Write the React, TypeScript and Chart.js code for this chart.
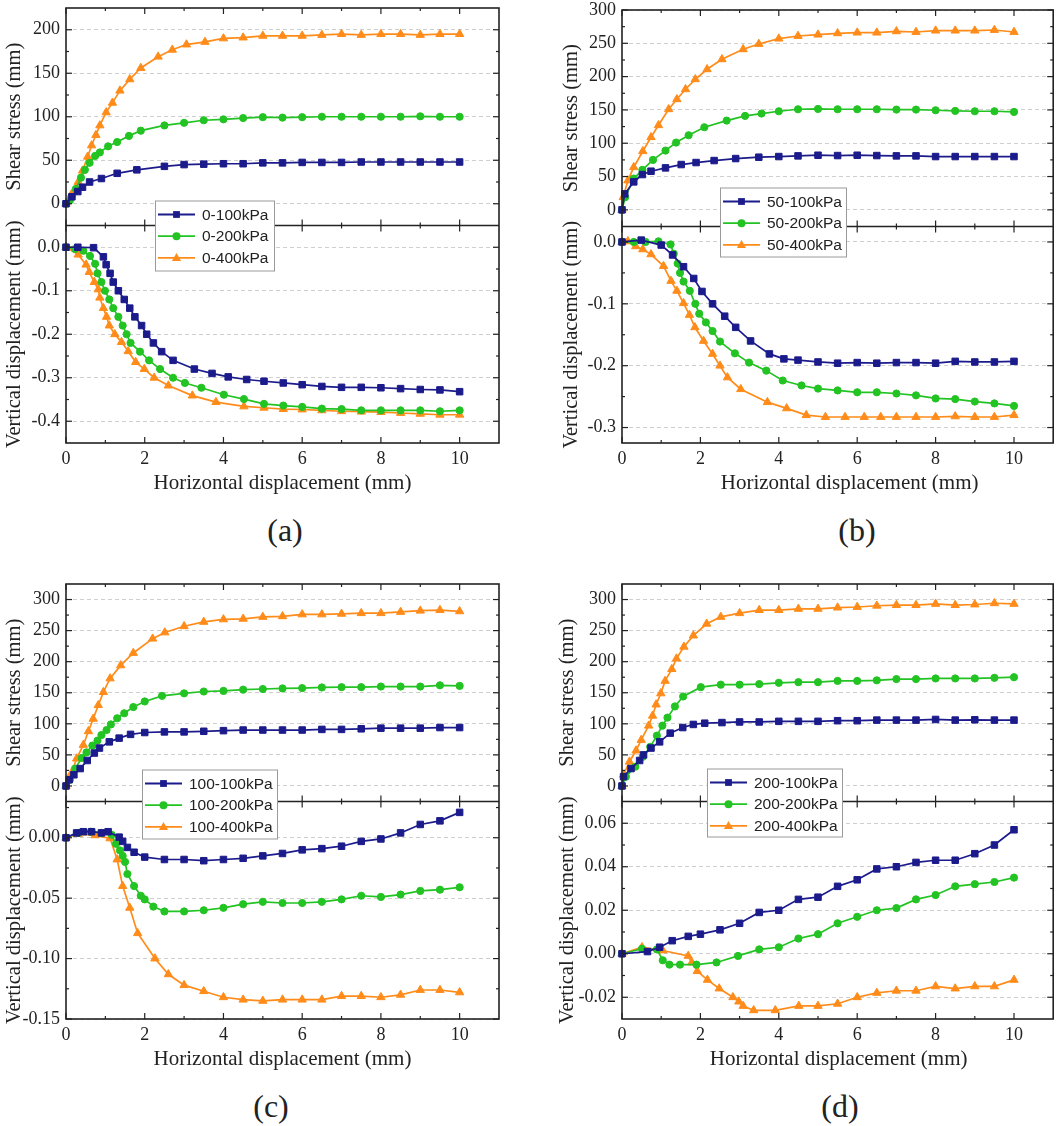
import { useEffect, useRef } from 'react';
import { Chart, registerables } from 'chart.js';

Chart.register(...registerables);

type Pt = [number, number];

const X_TICKS = [0, 2, 4, 6, 8, 10];

// (a)
const A_LABELS = ['0-100kPa', '0-200kPa', '0-400kPa'];
const A_TAU_TICKS = [0, 50, 100, 150, 200];
const A_V_TICKS = [-0.4, -0.3, -0.2, -0.1, 0];
const A_TAU_100: Pt[] = [[0, 0], [0.15, 8], [0.3, 14], [0.42, 19], [0.6, 25], [0.9, 29], [1.3, 35], [1.8, 39], [2.5, 43], [3, 45], [3.5, 45.5], [4, 46], [4.5, 46], [5, 47], [5.5, 47], [6, 47.5], [6.5, 47.5], [7, 47.5], [7.5, 48], [8, 48], [8.5, 48], [9, 48], [9.5, 48], [10, 48]];
const A_TAU_200: Pt[] = [[0, 0], [0.1, 4], [0.25, 17], [0.38, 30], [0.48, 39], [0.6, 47], [0.74, 55], [0.86, 59], [1.07, 66], [1.3, 71], [1.6, 78], [1.9, 84], [2.5, 90], [3, 93], [3.5, 96], [4, 97], [4.5, 98.5], [5, 99.5], [5.5, 99], [6, 99.5], [6.5, 100], [7, 100], [7.5, 100], [8, 100], [8.5, 100], [9, 100.5], [9.5, 100], [10, 100]];
const A_TAU_400: Pt[] = [[0, 0], [0.14, 11], [0.31, 25], [0.42, 38], [0.55, 54], [0.65, 67], [0.76, 79], [0.86, 90], [1.02, 105], [1.18, 116], [1.37, 130], [1.62, 143], [1.9, 156], [2.34, 169], [2.7, 177], [3.06, 183], [3.53, 186], [4, 190], [4.5, 191], [5, 193], [5.5, 193], [6, 193], [6.5, 194], [7, 195], [7.5, 194], [8, 195], [8.5, 195], [9, 194], [9.5, 195], [10, 195]];
const A_V_100: Pt[] = [[0, 0], [0.3, 0], [0.7, -0.001], [0.95, -0.022], [1.02, -0.04], [1.12, -0.06], [1.2, -0.08], [1.33, -0.1], [1.48, -0.12], [1.62, -0.14], [1.75, -0.16], [1.92, -0.18], [2.05, -0.2], [2.22, -0.22], [2.43, -0.24], [2.72, -0.26], [3.26, -0.28], [3.71, -0.29], [4.12, -0.298], [4.59, -0.304], [5.03, -0.308], [5.52, -0.312], [6, -0.316], [6.5, -0.32], [7, -0.322], [7.5, -0.322], [8, -0.323], [8.5, -0.325], [9, -0.327], [9.5, -0.328], [10, -0.332]];
const A_V_200: Pt[] = [[0, 0], [0.23, -0.004], [0.44, -0.008], [0.61, -0.02], [0.74, -0.038], [0.8, -0.06], [0.9, -0.08], [0.99, -0.1], [1.1, -0.12], [1.2, -0.14], [1.33, -0.16], [1.44, -0.18], [1.54, -0.2], [1.64, -0.22], [1.88, -0.24], [2.11, -0.26], [2.39, -0.28], [2.72, -0.3], [3.02, -0.312], [3.44, -0.323], [4.01, -0.339], [4.52, -0.349], [5.03, -0.36], [5.52, -0.364], [6, -0.367], [6.5, -0.371], [7, -0.372], [7.5, -0.375], [8, -0.375], [8.5, -0.375], [9, -0.375], [9.5, -0.377], [10, -0.375]];
const A_V_400: Pt[] = [[0, 0], [0.31, -0.017], [0.51, -0.04], [0.59, -0.057], [0.72, -0.08], [0.82, -0.097], [0.86, -0.116], [0.95, -0.14], [1.03, -0.16], [1.1, -0.18], [1.24, -0.2], [1.41, -0.218], [1.58, -0.239], [1.77, -0.264], [1.99, -0.28], [2.24, -0.3], [2.6, -0.318], [3.21, -0.341], [3.81, -0.356], [4.52, -0.366], [5.03, -0.369], [5.52, -0.372], [6, -0.373], [6.5, -0.375], [7, -0.377], [7.5, -0.378], [8, -0.379], [8.5, -0.381], [9, -0.383], [9.5, -0.385], [10, -0.385]];

// (b)
const B_LABELS = ['50-100kPa', '50-200kPa', '50-400kPa'];
const B_TAU_TICKS = [0, 50, 100, 150, 200, 250, 300];
const B_V_TICKS = [-0.3, -0.2, -0.1, 0];
const B_TAU_100: Pt[] = [[0, 0], [0.07, 24], [0.3, 42], [0.52, 53], [0.74, 58], [1.11, 63], [1.51, 68], [1.89, 71], [2.35, 74], [2.9, 77], [3.49, 79], [4, 80], [4.49, 81], [5, 82], [5.5, 81.5], [6, 82], [6.5, 81.5], [7, 81], [7.5, 81], [8, 80], [8.5, 80], [9, 80], [9.5, 80], [10, 80]];
const B_TAU_200: Pt[] = [[0, 0], [0.08, 19], [0.3, 47], [0.52, 60], [0.79, 75], [1.11, 89], [1.38, 101], [1.7, 112], [2.1, 124], [2.67, 134], [3.14, 141], [3.56, 144.5], [4, 148], [4.49, 151], [5, 151.5], [5.5, 151], [6, 151], [6.5, 151], [7, 150.5], [7.5, 150.5], [8, 149.5], [8.5, 148.5], [9, 148], [9.5, 148], [10, 147]];
const B_TAU_400: Pt[] = [[0, 0], [0.03, 19], [0.15, 44], [0.3, 64], [0.53, 88], [0.74, 109], [0.93, 127], [1.19, 151], [1.4, 166], [1.62, 181], [1.87, 196], [2.17, 211], [2.55, 226], [3.09, 241], [3.49, 249], [4, 257], [4.49, 261], [5, 263], [5.5, 265], [6, 266], [6.5, 266], [7, 268], [7.5, 267], [8, 269], [8.5, 269], [9, 269], [9.5, 270], [10, 267]];
const B_V_100: Pt[] = [[0, 0], [0.49, 0.003], [1, -0.005], [1.29, -0.021], [1.57, -0.04], [1.83, -0.059], [2.04, -0.08], [2.31, -0.1], [2.62, -0.12], [2.9, -0.138], [3.28, -0.16], [3.76, -0.181], [4.13, -0.189], [4.49, -0.191], [5, -0.194], [5.5, -0.196], [6, -0.195], [6.5, -0.196], [7, -0.195], [7.5, -0.195], [8, -0.196], [8.5, -0.193], [9, -0.194], [9.5, -0.194], [10, -0.193]];
const B_V_200: Pt[] = [[0, 0], [0.3, 0], [0.6, 0], [0.93, 0.001], [1.24, -0.004], [1.32, -0.019], [1.42, -0.035], [1.48, -0.05], [1.57, -0.064], [1.73, -0.079], [1.87, -0.1], [1.97, -0.116], [2.14, -0.13], [2.31, -0.144], [2.5, -0.161], [2.88, -0.18], [3.24, -0.195], [3.68, -0.208], [4.1, -0.224], [4.58, -0.232], [5, -0.237], [5.5, -0.24], [6, -0.243], [6.5, -0.243], [7, -0.245], [7.5, -0.248], [8, -0.253], [8.5, -0.254], [9, -0.258], [9.5, -0.261], [10, -0.265]];
const B_V_400: Pt[] = [[0, 0], [0.15, 0.001], [0.35, -0.007], [0.53, -0.012], [0.74, -0.02], [1.06, -0.039], [1.25, -0.063], [1.4, -0.079], [1.57, -0.099], [1.72, -0.118], [1.86, -0.138], [2.08, -0.16], [2.31, -0.181], [2.5, -0.2], [2.69, -0.219], [3.03, -0.238], [3.71, -0.259], [4.2, -0.269], [4.7, -0.28], [5.19, -0.283], [5.69, -0.283], [6.18, -0.283], [6.6, -0.283], [7, -0.283], [7.5, -0.283], [8, -0.283], [8.5, -0.282], [9, -0.283], [9.5, -0.283], [10, -0.28]];

// (c)
const C_LABELS = ['100-100kPa', '100-200kPa', '100-400kPa'];
const C_TAU_TICKS = [0, 50, 100, 150, 200, 250, 300];
const C_V_TICKS = [-0.15, -0.1, -0.05, 0];
const C_TAU_100: Pt[] = [[0, 0], [0.08, 10], [0.2, 18], [0.36, 28], [0.54, 41], [0.72, 53], [0.85, 61], [1.1, 71], [1.35, 77], [1.64, 83], [2, 86], [2.5, 87], [3, 87], [3.5, 88], [4, 89], [4.5, 90], [5, 90], [5.5, 90], [6, 90], [6.5, 91], [7, 91], [7.5, 92], [8, 93], [8.5, 93], [9, 93], [9.5, 94], [10, 94]];
const C_TAU_200: Pt[] = [[0, 0], [0.1, 10], [0.23, 28], [0.4, 45], [0.52, 54], [0.67, 65], [0.8, 73], [0.9, 82], [1.03, 90], [1.14, 99], [1.3, 109], [1.48, 117], [1.71, 127], [2, 136], [2.44, 145], [3, 149], [3.5, 152], [4, 153], [4.5, 155], [5, 156], [5.5, 157], [6, 157.5], [6.5, 158.5], [7, 159], [7.5, 159], [8, 160], [8.5, 160], [9, 160], [9.5, 162], [10, 161]];
const C_TAU_400: Pt[] = [[0, 0], [0.13, 20], [0.27, 44], [0.44, 66], [0.57, 88], [0.69, 108], [0.82, 130], [0.95, 151], [1.12, 173], [1.39, 194], [1.71, 214], [2.2, 237], [2.51, 247], [3, 257], [3.5, 264], [4, 268], [4.5, 269], [5, 272], [5.5, 273], [6, 276], [6.5, 276], [7, 277], [7.5, 278], [8, 278], [8.5, 280], [9, 282], [9.5, 283], [10, 281]];
const C_V_100: Pt[] = [[0, 0], [0.27, 0.004], [0.44, 0.005], [0.65, 0.005], [0.9, 0.004], [1.07, 0.005], [1.35, 0.0005], [1.44, -0.003], [1.56, -0.008], [1.73, -0.012], [2, -0.016], [2.5, -0.018], [3, -0.018], [3.5, -0.019], [4, -0.018], [4.5, -0.017], [5, -0.015], [5.5, -0.013], [6, -0.01], [6.5, -0.009], [7, -0.007], [7.5, -0.003], [8, -0.001], [8.5, 0.004], [9, 0.011], [9.5, 0.014], [10, 0.021]];
const C_V_200: Pt[] = [[0, 0], [0.31, 0.004], [0.63, 0.005], [0.9, 0.004], [1.16, 0.0025], [1.27, -0.005], [1.37, -0.0105], [1.44, -0.015], [1.5, -0.02], [1.56, -0.03], [1.73, -0.04], [1.9, -0.048], [2, -0.051], [2.22, -0.057], [2.5, -0.061], [3, -0.061], [3.5, -0.06], [4, -0.058], [4.5, -0.055], [5, -0.053], [5.5, -0.054], [6, -0.054], [6.5, -0.053], [7, -0.051], [7.5, -0.048], [8, -0.049], [8.5, -0.047], [9, -0.044], [9.5, -0.043], [10, -0.041]];
const C_V_400: Pt[] = [[0, 0], [0.31, 0.003], [0.74, 0.002], [1.12, -0.0005], [1.3, -0.018], [1.44, -0.04], [1.62, -0.058], [1.82, -0.079], [2.26, -0.1], [2.6, -0.113], [3, -0.122], [3.5, -0.127], [4, -0.132], [4.5, -0.134], [5, -0.135], [5.5, -0.134], [6, -0.134], [6.5, -0.134], [7, -0.131], [7.5, -0.131], [8, -0.132], [8.5, -0.13], [9, -0.126], [9.5, -0.126], [10, -0.128]];

// (d)
const D_LABELS = ['200-100kPa', '200-200kPa', '200-400kPa'];
const D_TAU_TICKS = [0, 50, 100, 150, 200, 250, 300];
const D_V_TICKS = [-0.02, 0, 0.02, 0.04, 0.06];
const D_TAU_100: Pt[] = [[0, 0], [0.04, 15], [0.23, 28], [0.45, 41], [0.55, 50], [0.74, 61], [0.96, 71], [1.23, 85], [1.55, 94], [1.82, 99], [2.11, 101], [2.55, 102], [3, 103], [3.5, 103], [4, 104], [4.5, 104], [5, 104], [5.5, 105], [6, 105], [6.5, 106], [7, 106], [7.5, 106], [8, 107], [8.5, 106], [9, 106.5], [9.5, 106], [10, 106]];
const D_TAU_200: Pt[] = [[0, 0], [0.1, 15], [0.34, 31], [0.53, 47], [0.72, 63], [0.89, 81], [1.03, 97], [1.16, 110], [1.35, 128], [1.56, 144], [2.01, 159], [2.52, 163], [3, 163], [3.5, 164], [4, 166], [4.5, 167], [5, 167], [5.5, 169], [6, 169], [6.5, 170], [7, 172], [7.5, 172], [8, 173], [8.5, 173], [9, 173], [9.5, 174], [10, 175]];
const D_TAU_400: Pt[] = [[0, 0], [0.04, 18], [0.19, 39], [0.36, 57], [0.49, 74], [0.68, 97], [0.78, 113], [0.87, 131], [0.99, 149], [1.1, 169], [1.27, 188], [1.39, 205], [1.58, 224], [1.82, 242], [2.16, 261], [2.52, 272], [3, 278], [3.5, 283], [4, 283], [4.5, 285], [5, 285], [5.5, 287], [6, 288], [6.5, 290], [7, 291], [7.5, 291], [8, 293], [8.5, 291], [9, 292], [9.5, 294], [10, 293]];
const D_V_100: Pt[] = [[0, 0], [0.65, 0.001], [0.96, 0.003], [1.28, 0.006], [1.69, 0.008], [2, 0.009], [2.5, 0.011], [3, 0.014], [3.5, 0.019], [4, 0.02], [4.5, 0.025], [5, 0.026], [5.5, 0.031], [6, 0.034], [6.5, 0.039], [7, 0.04], [7.5, 0.042], [8, 0.043], [8.5, 0.043], [9, 0.046], [9.5, 0.05], [10, 0.057]];
const D_V_200: Pt[] = [[0, 0], [0.51, 0.0023], [0.89, 0.002], [1.04, -0.003], [1.21, -0.005], [1.48, -0.005], [1.9, -0.005], [2.41, -0.004], [2.96, -0.001], [3.5, 0.002], [4, 0.003], [4.5, 0.007], [5, 0.009], [5.5, 0.014], [6, 0.017], [6.5, 0.02], [7, 0.021], [7.5, 0.025], [8, 0.027], [8.5, 0.031], [9, 0.032], [9.5, 0.033], [10, 0.035]];
const D_V_400: Pt[] = [[0, 0], [0.51, 0.003], [1.04, 0.0015], [1.69, -0.001], [1.78, -0.004], [1.92, -0.008], [2.18, -0.012], [2.48, -0.016], [2.83, -0.02], [2.98, -0.022], [3.09, -0.024], [3.36, -0.026], [3.91, -0.026], [4.51, -0.024], [5, -0.024], [5.5, -0.023], [6, -0.02], [6.5, -0.018], [7, -0.017], [7.5, -0.017], [8, -0.015], [8.5, -0.016], [9, -0.015], [9.5, -0.015], [10, -0.012]];

const COLORS = ['#1b1b8c', '#22c322', '#ff8c1a'];
const MARKERS = ['rect', 'circle', 'triangle'];
const RADII = [4.6, 3.6, 4.8];
const INK = '#222222';
const SERIF = '"Liberation Serif", "Times New Roman", serif';

type PanelCfg = {
  left: number; top: number; width: number; padTop: number;
  tag: string; tagX: number; tagY: number; yTitleX: number; xTitleDx: number;
  labels: string[]; tau: Pt[][]; vert: Pt[][];
  tauMin: number; tauMax: number; tauTicks: number[];
  vMin: number; vMax: number; vTicks: number[]; vDec: number;
  legend: { dx: number; dy: number; w: number; h: number };
};

const PANELS: PanelCfg[] = [
  { left: 0, top: 0, width: 520, padTop: 8, tag: '(a)', tagX: 285, tagY: 530, yTitleX: 15, xTitleDx: 0,
    labels: A_LABELS, tau: [A_TAU_100, A_TAU_200, A_TAU_400], vert: [A_V_100, A_V_200, A_V_400],
    tauMin: -25, tauMax: 225, tauTicks: A_TAU_TICKS, vMin: -0.45, vMax: 0.05, vTicks: A_V_TICKS, vDec: 1,
    legend: { dx: 89, dy: -25, w: 119, h: 70 } },
  { left: 556, top: 0, width: 503, padTop: 10, tag: '(b)', tagX: 857, tagY: 530, yTitleX: 16, xTitleDx: 12,
    labels: B_LABELS, tau: [B_TAU_100, B_TAU_200, B_TAU_400], vert: [B_V_100, B_V_200, B_V_400],
    tauMin: -25, tauMax: 300, tauTicks: B_TAU_TICKS, vMin: -0.325, vMax: 0.025, vTicks: B_V_TICKS, vDec: 1,
    legend: { dx: 98, dy: -39, w: 126, h: 69 } },
  { left: 0, top: 576, width: 520, padTop: 8, tag: '(c)', tagX: 271, tagY: 1106, yTitleX: 15, xTitleDx: 0,
    labels: C_LABELS, tau: [C_TAU_100, C_TAU_200, C_TAU_400], vert: [C_V_100, C_V_200, C_V_400],
    tauMin: -25, tauMax: 325, tauTicks: C_TAU_TICKS, vMin: -0.15, vMax: 0.03, vTicks: C_V_TICKS, vDec: 2,
    legend: { dx: 76, dy: -32, w: 135, h: 69 } },
  { left: 556, top: 576, width: 503, padTop: 8, tag: '(d)', tagX: 840, tagY: 1106, yTitleX: 12, xTitleDx: 1,
    labels: D_LABELS, tau: [D_TAU_100, D_TAU_200, D_TAU_400], vert: [D_V_100, D_V_200, D_V_400],
    tauMin: -25, tauMax: 325, tauTicks: D_TAU_TICKS, vMin: -0.03, vMax: 0.07, vTicks: D_V_TICKS, vDec: 2,
    legend: { dx: 85, dy: -33, w: 135, h: 68 } },
];

const CANVAS_H = 500;
const PLOT_LEFT = 66;
const PLOT_RIGHT = 499;
const PLOT_BOTTOM = 443;
const X_TITLE_Y = 483;

function seg(ctx: CanvasRenderingContext2D, x1: number, y1: number, x2: number, y2: number) {
  ctx.beginPath();
  ctx.moveTo(x1, y1);
  ctx.lineTo(x2, y2);
  ctx.stroke();
}

function drawMarker(ctx: CanvasRenderingContext2D, i: number, x: number, y: number) {
  ctx.fillStyle = COLORS[i];
  ctx.beginPath();
  if (MARKERS[i] === 'rect') ctx.rect(x - 3.4, y - 3.4, 6.8, 6.8);
  else if (MARKERS[i] === 'circle') ctx.arc(x, y, 4, 0, Math.PI * 2);
  else {
    ctx.moveTo(x, y - 5);
    ctx.lineTo(x + 4.6, y + 3);
    ctx.lineTo(x - 4.6, y + 3);
    ctx.closePath();
  }
  ctx.fill();
}

function minorOf(ticks: number[], lo: number, hi: number) {
  const step = ticks[1] - ticks[0];
  return [ticks[0] - step / 2, ...ticks.map((v) => v + step / 2)].filter((v) => v > lo + 1e-9 && v < hi - 1e-9);
}

function makePlugins(cfg: PanelCfg) {
  const frame = {
    id: 'frame',
    afterDatasetsDraw(chart: any) {
      const { ctx, chartArea: ca } = chart;
      const xs = chart.scales.x;
      const yT = chart.scales.yTop;
      const yB = chart.scales.yBot;
      const div = yT.bottom;
      ctx.save();
      ctx.strokeStyle = INK;
      ctx.setLineDash([]);
      ctx.lineWidth = 1.2;
      X_TICKS.forEach((v) => {
        const p = xs.getPixelForValue(v);
        seg(ctx, p, ca.top, p, ca.top + 6);
        seg(ctx, p, div - 6, p, div + 6);
        seg(ctx, p, ca.bottom, p, ca.bottom - 6);
      });
      minorOf(X_TICKS, xs.min, xs.max).forEach((v) => {
        const p = xs.getPixelForValue(v);
        seg(ctx, p, ca.top, p, ca.top + 3);
        seg(ctx, p, div - 3, p, div + 3);
        seg(ctx, p, ca.bottom, p, ca.bottom - 3);
      });
      const pairs: [any, number[]][] = [[yT, cfg.tauTicks], [yB, cfg.vTicks]];
      pairs.forEach(([sc, ticks]) => {
        ticks.forEach((v) => {
          const p = sc.getPixelForValue(v);
          seg(ctx, ca.left, p, ca.left + 6, p);
          seg(ctx, ca.right, p, ca.right - 6, p);
        });
        minorOf(ticks, sc.min, sc.max).forEach((v) => {
          const p = sc.getPixelForValue(v);
          seg(ctx, ca.left, p, ca.left + 3, p);
          seg(ctx, ca.right, p, ca.right - 3, p);
        });
      });
      ctx.lineWidth = 1.6;
      ctx.strokeRect(ca.left, ca.top, ca.right - ca.left, ca.bottom - ca.top);
      seg(ctx, ca.left, div, ca.right, div);
      ctx.restore();
    },
  };
  const legend = {
    id: 'boxLegend',
    afterDraw(chart: any) {
      const { ctx, chartArea: ca } = chart;
      const lg = cfg.legend;
      const L = ca.left + lg.dx;
      const T = chart.scales.yTop.bottom + lg.dy;
      ctx.save();
      ctx.fillStyle = '#ffffff';
      ctx.fillRect(L, T, lg.w, lg.h);
      ctx.strokeStyle = '#9a9a9a';
      ctx.lineWidth = 1;
      ctx.strokeRect(L + 0.5, T + 0.5, lg.w, lg.h);
      cfg.labels.forEach((lab, i) => {
        const cy = T + 14 + i * 21.7;
        ctx.strokeStyle = COLORS[i];
        ctx.lineWidth = 1.8;
        seg(ctx, L + 3, cy, L + 40, cy);
        drawMarker(ctx, i, L + 21.5, cy);
        ctx.fillStyle = INK;
        ctx.font = '15.5px "Liberation Sans", Arial, sans-serif';
        ctx.textBaseline = 'middle';
        ctx.textAlign = 'left';
        ctx.fillText(lab, L + 47, cy + 1);
      });
      ctx.restore();
    },
  };
  const titles = {
    id: 'axisTitles',
    afterDraw(chart: any) {
      const { ctx, chartArea: ca } = chart;
      const yT = chart.scales.yTop;
      const yB = chart.scales.yBot;
      ctx.save();
      ctx.fillStyle = INK;
      ctx.textAlign = 'center';
      ctx.textBaseline = 'middle';
      ctx.font = `20.5px ${SERIF}`;
      const ys: [any, string][] = [[yT, 'Shear stress (mm)'], [yB, 'Vertical displacement (mm)']];
      ys.forEach(([sc, text]) => {
        ctx.save();
        ctx.translate(cfg.yTitleX, (sc.top + sc.bottom) / 2);
        ctx.rotate(-Math.PI / 2);
        ctx.fillText(text, 0, 0);
        ctx.restore();
      });
      ctx.font = `21px ${SERIF}`;
      ctx.fillText('Horizontal displacement (mm)', (ca.left + ca.right) / 2 + cfg.xTitleDx, X_TITLE_Y);
      ctx.restore();
    },
  };
  return [frame, legend, titles];
}

function Panel({ cfg }: { cfg: PanelCfg }) {
  const ref = useRef<HTMLCanvasElement | null>(null);

  useEffect(() => {
    if (!ref.current) return;
    const mk = (pts: Pt[], i: number, axis: string) => ({
      label: cfg.labels[i],
      data: pts.map(([x, y]) => ({ x, y })),
      yAxisID: axis,
      borderColor: COLORS[i],
      backgroundColor: COLORS[i],
      pointStyle: MARKERS[i],
      pointRadius: RADII[i],
      pointBorderWidth: 1,
      borderWidth: 1.7,
      tension: 0,
      clip: false,
    });
    const tickFont = { family: SERIF, size: 18 };
    const yCommon = (ticks: number[], dec: number, min: number, max: number) => ({
      type: 'linear',
      position: 'left',
      stack: 'panel',
      stackWeight: 1,
      min,
      max,
      afterBuildTicks: (s: any) => { s.ticks = ticks.map((value) => ({ value })); },
      afterFit: (s: any) => { s.width = PLOT_LEFT; s.paddingTop = 0; s.paddingBottom = 0; },
      ticks: { font: tickFont, color: INK, padding: 6, autoSkip: false, callback: (v: any) => Number(v).toFixed(dec) },
      grid: { color: '#cfcfcf', lineWidth: 1, drawTicks: false },
      border: { display: false, dash: [4, 3] },
      title: { display: false },
    });
    const chart = new Chart(ref.current, {
      type: 'line',
      data: {
        datasets: [
          ...cfg.tau.map((p, i) => mk(p, i, 'yTop')),
          ...cfg.vert.map((p, i) => mk(p, i, 'yBot')),
        ],
      },
      options: {
        animation: false,
        responsive: false,
        maintainAspectRatio: false,
        layout: { padding: { top: cfg.padTop, left: 0, right: cfg.width - PLOT_RIGHT, bottom: 0 } },
        plugins: { legend: { display: false }, tooltip: { enabled: false } },
        scales: {
          x: {
            type: 'linear',
            min: 0,
            max: 11,
            afterBuildTicks: (s: any) => { s.ticks = X_TICKS.map((value) => ({ value })); },
            afterFit: (s: any) => { s.height = CANVAS_H - PLOT_BOTTOM; s.paddingLeft = 0; s.paddingRight = 0; },
            ticks: { font: tickFont, color: INK, padding: 5, maxRotation: 0, autoSkip: false },
            grid: { display: false, drawTicks: false },
            border: { display: false },
            title: { display: false },
          },
          yBot: yCommon(cfg.vTicks, cfg.vDec, cfg.vMin, cfg.vMax),
          yTop: yCommon(cfg.tauTicks, 0, cfg.tauMin, cfg.tauMax),
        },
      },
      plugins: makePlugins(cfg),
    } as any);
    return () => chart.destroy();
  }, [cfg]);

  return (
    <canvas
      ref={ref}
      width={cfg.width}
      height={CANVAS_H}
      style={{ position: 'absolute', left: cfg.left, top: cfg.top, width: cfg.width, height: CANVAS_H }}
    />
  );
}

export default function App() {
  return (
    <div style={{ position: 'absolute', left: 0, top: 0, width: 1059, height: 1126, background: '#fff', overflow: 'hidden' }}>
      {PANELS.map((cfg) => (
        <div key={cfg.tag}>
          <Panel cfg={cfg} />
          <div
            style={{
              position: 'absolute', left: cfg.tagX - 50, top: cfg.tagY - 18, width: 100, height: 36,
              lineHeight: '36px', textAlign: 'center', fontFamily: SERIF, fontSize: 32, color: INK,
            }}
          >
            {cfg.tag}
          </div>
        </div>
      ))}
    </div>
  );
}
